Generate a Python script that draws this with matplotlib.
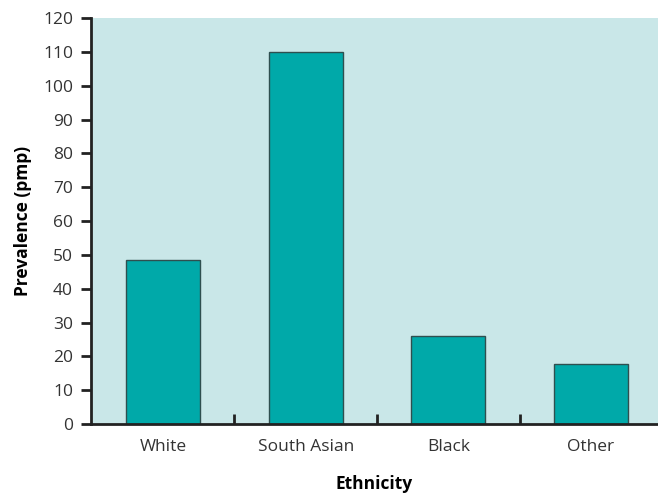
import matplotlib.pyplot as plt

categories = ["White", "South Asian", "Black", "Other"]
prevalence = [48.5, 110, 26, 17.6]
y_ticks = list(range(0, 121, 10))

plt.rcParams["font.family"] = ["Open Sans", "DejaVu Sans"]

fig = plt.figure(figsize=(6.58, 4.95), dpi=100)
ax = fig.add_axes([0.1383, 0.1434, 0.8617, 0.8202])
ax.set_facecolor("#c9e7e8")

x = list(range(len(categories)))
ax.bar(x, prevalence, width=0.52, color="#00a9a9", edgecolor="#2f4f4f", linewidth=1)

ax.set_xlim(-0.505, 3.47)
ax.set_ylim(0, 120)
ax.set_yticks(y_ticks)
ax.set_xticks(x)
ax.set_xticklabels(categories, fontsize=12.5, color="#333333")
ax.tick_params(axis="x", length=0, pad=11)
ax.set_xticks([0.5, 1.5, 2.5], minor=True)
ax.tick_params(axis="x", which="minor", direction="in", length=7, width=2, color="#222222")
ax.tick_params(axis="y", direction="out", length=7, width=2, labelsize=12.5, labelcolor="#333333", color="#222222", pad=6)

for s in ["top", "right"]:
    ax.spines[s].set_visible(False)
for s in ["left", "bottom"]:
    ax.spines[s].set_linewidth(2)
    ax.spines[s].set_color("#222222")

ax.set_xlabel("Ethnicity", fontsize=12.5, fontweight="bold", labelpad=14)
ax.set_ylabel("Prevalence (pmp)", fontsize=12.5, fontweight="bold", labelpad=8)

fig.savefig("out.png", dpi=100)
